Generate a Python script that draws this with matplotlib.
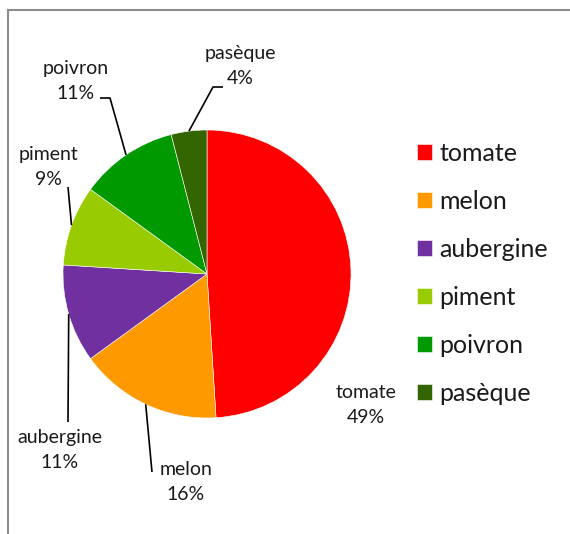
import numpy as np
import matplotlib.pyplot as plt
from matplotlib.lines import Line2D

# Data
labels = ['tomate', 'melon', 'aubergine', 'piment', 'poivron', 'pasèque']
values = [49, 16, 11, 9, 11, 4]
colors = ['#FF0000', '#FF9900', '#7030A0', '#99CC00', '#009900', '#336600']

W, H = 570, 534
plt.rcParams['font.family'] = ['Lato', 'DejaVu Sans']

fig = plt.figure(figsize=(W / 100, H / 100), dpi=100)
ax = fig.add_axes([0, 0, 1, 1])

# pie in pixel-like coordinates (y measured from the bottom)
cx, cy, r = 207, H - 274, 144
wedges, _ = ax.pie(values, colors=colors, startangle=90, counterclock=False,
                   center=(cx, cy), radius=r, frame=True,
                   wedgeprops=dict(edgecolor='white', linewidth=0.4))
ax.set_xlim(0, W)
ax.set_ylim(0, H)
ax.set_aspect('equal')
ax.axis('off')

# data labels: text position and leader path (elbow point) per slice
lab_pos = {'tomate': (366, 405), 'melon': (186, 482), 'aubergine': (60, 450),
           'piment': (48, 167), 'poivron': (76, 81), 'pasèque': (240, 66)}
leaders = {'melon': [(152, 472)], 'aubergine': [(68, 422)], 'piment': [(68, 187)],
           'poivron': [(110, 98), (100, 98)], 'pasèque': [(213, 87), (223, 87)]}

total = sum(values)
start = 0
for lab, v, w in zip(labels, values, wedges):
    mid = (start + v / 2) / total * 2 * np.pi
    start += v
    tx, ty = lab_pos[lab]
    ax.text(tx, H - ty, f'{lab}\n{v}%', ha='center', va='center',
            fontsize=14, color='#1a1a1a', linespacing=1.6)
    if lab in leaders:
        px = cx + r * np.sin(mid)
        py = cy + r * np.cos(mid)
        pts = [(px, py)] + [(x, H - y) for x, y in leaders[lab]]
        xs, ys = zip(*pts)
        ax.plot(xs, ys, color='black', lw=1.2, solid_capstyle='butt')

# legend
leg = ax.legend(wedges, labels, loc='upper left', bbox_to_anchor=(417 / W, 1 - 142 / H),
                frameon=False, fontsize=18, handlelength=0.6, handleheight=0.6,
                handletextpad=0.3, labelspacing=1.0, borderpad=0, borderaxespad=0)
for t in leg.get_texts():
    t.set_color('#1a1a1a')

# chart border (partly cropped)
fig.add_artist(Line2D([8 / W, 1], [1 - 10 / H, 1 - 10 / H], color='#8c8c8c', lw=1.5))
fig.add_artist(Line2D([8 / W, 8 / W], [0, 1 - 10 / H], color='#8c8c8c', lw=1.5))

fig.savefig('out.png', dpi=100)
